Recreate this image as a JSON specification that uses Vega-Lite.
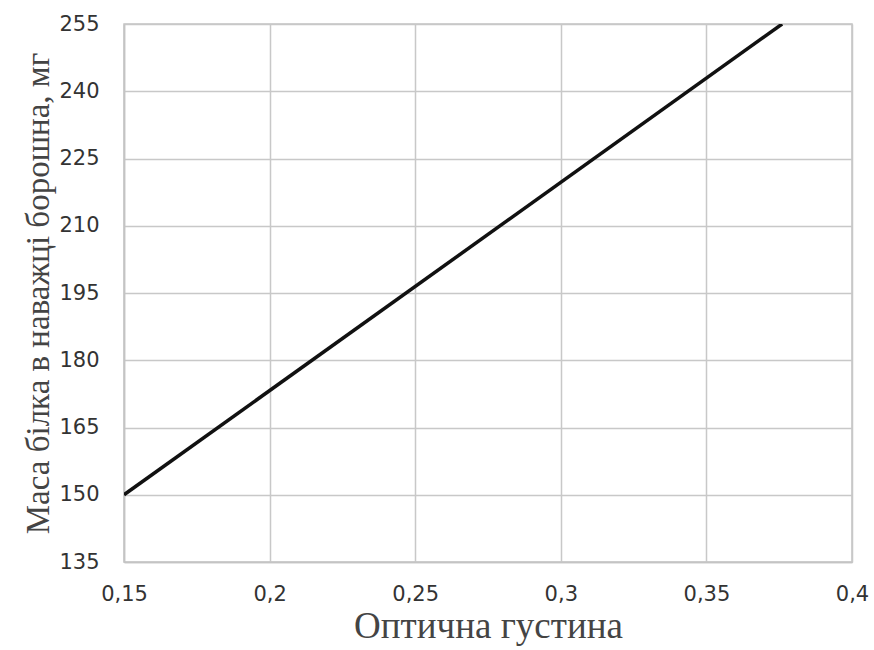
{
  "$schema": "https://vega.github.io/schema/vega-lite/v6.json",
  "width": 728,
  "height": 538,
  "autosize": "none",
  "padding": {"left": 124, "top": 24, "right": 22, "bottom": 88},
  "background": "white",
  "config": {
    "view": {"stroke": "#c4c4c4", "strokeWidth": 1.5},
    "axis": {
      "gridColor": "#c8c8c8",
      "gridWidth": 1.5,
      "domainColor": "#c4c4c4",
      "domainWidth": 1.5,
      "ticks": false,
      "labelFont": "DejaVu Sans",
      "labelFontSize": 21,
      "labelColor": "#333333",
      "titleFont": "Liberation Serif",
      "titleFontWeight": "normal",
      "titleColor": "#444444"
    }
  },
  "data": {"values": [
    {"x": 0.15, "y": 150},
    {"x": 0.376, "y": 255}
  ]},
  "mark": {"type": "line", "color": "#111111", "strokeWidth": 3.5, "clip": true},
  "encoding": {
    "x": {
      "field": "x", "type": "quantitative",
      "scale": {"domain": [0.15, 0.4], "nice": false, "zero": false},
      "axis": {
        "values": [0.15, 0.2, 0.25, 0.3, 0.35, 0.4],
        "labelExpr": "replace(format(datum.value, '~g'), '.', ',')",
        "labelFlush": false,
        "labelPadding": 21,
        "title": "Оптична густина",
        "titleFontSize": 37,
        "titlePadding": 4
      }
    },
    "y": {
      "field": "y", "type": "quantitative",
      "scale": {"domain": [135, 255], "nice": false, "zero": false},
      "axis": {
        "values": [135, 150, 165, 180, 195, 210, 225, 240, 255],
        "labelPadding": 25,
        "title": "Маса білка в наважці борошна, мг",
        "titleFontSize": 33,
        "titlePadding": 3
      }
    }
  }
}
